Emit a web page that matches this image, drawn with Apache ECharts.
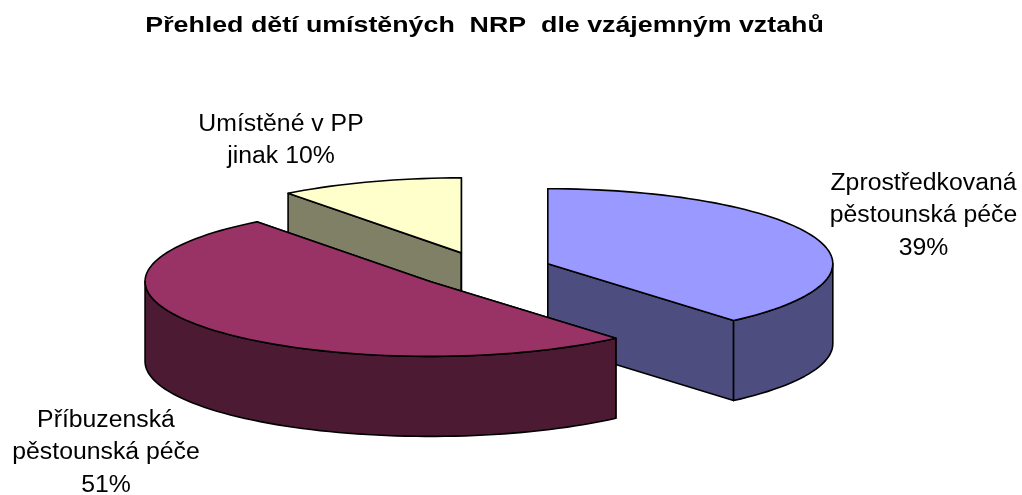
<!DOCTYPE html>
<html>
<head>
<meta charset="utf-8">
<style>
  html, body { margin: 0; padding: 0; background: #fff; }
  #chart { width: 1022px; height: 495px; }
</style>
<script src="https://cdn.jsdelivr.net/npm/echarts@6/dist/echarts.min.js"></script>
</head>
<body>
<div id="chart"></div>
<script>
// hodnoty (popisky jsou zaokrouhlené)
const categories = ['Zprostředkovaná\npěstounská péče', 'Příbuzenská\npěstounská péče', 'Umístěné v PP\njinak']
const values = [38.7, 50.9, 10.4]
const titleText = 'Přehled dětí umístěných  NRP  dle vzájemným vztahů'

const TOP_COLORS = ['#9999ff', '#993366', '#ffffcc']
const SIDE_COLORS = ['#4d4d80', '#4d1a33', '#808066']
const LABEL_POS = [[923.5, 167], [106, 404], [281, 108]]
const LABEL_BREAK = ['\n', '\n', ' ']
const FONT = '"Liberation Sans", Arial, sans-serif'

// projekce koláče: elipsa + výška + vysunutí výsečí
const CX = 483.4
const CY = 270
const RX = 285
const RY = 75
const DEPTH = 80
const EXPLODE = 68.7

const total = values.reduce((a, b) => a + b, 0)

function project(cx, cy, deg, dy = 0) {
  const a = (deg * Math.PI) / 180
  return [cx + RX * Math.sin(a), cy - RY * Math.cos(a) + dy]
}

function arcPoints(cx, cy, from, to, dy = 0) {
  const pts = []
  const steps = Math.max(2, Math.ceil(Math.abs(to - from) / 2))
  for (let i = 0; i <= steps; i++) {
    pts.push(project(cx, cy, from + ((to - from) * i) / steps, dy))
  }
  return pts
}

function renderSlice(params, api) {
  const i = api.value(0)
  let start = 0
  for (let k = 0; k < i; k++) start += (values[k] / total) * 360
  const end = start + (values[i] / total) * 360
  const mid = ((start + end) / 2) * Math.PI / 180
  const cx = CX + EXPLODE * Math.sin(mid)
  const cy = CY - EXPLODE * (RY / RX) * Math.cos(mid)

  const lineStyle = { stroke: '#000', lineWidth: 1.6, lineJoin: 'round' }
  const side = { ...lineStyle, fill: SIDE_COLORS[i] }
  const children = []
  const face = (deg) => {
    const p = project(cx, cy, deg)
    children.push({
      type: 'polygon',
      shape: { points: [[cx, cy], p, [p[0], p[1] + DEPTH], [cx, cy + DEPTH]] },
      style: side,
    })
  }
  face(start)
  face(end)

  // jen přední část pláště (90°–270°) je vidět
  const rimFrom = Math.max(start, 90)
  const rimTo = Math.min(end, 270)
  if (rimTo > rimFrom) {
    children.push({
      type: 'polygon',
      shape: {
        points: arcPoints(cx, cy, rimFrom, rimTo).concat(arcPoints(cx, cy, rimTo, rimFrom, DEPTH)),
      },
      style: side,
    })
  }
  children.push({
    type: 'polygon',
    shape: { points: [[cx, cy]].concat(arcPoints(cx, cy, start, end)) },
    style: { ...lineStyle, fill: TOP_COLORS[i] },
  })

  const pct = Math.round((values[i] / total) * 100)
  children.push({
    type: 'text',
    silent: true,
    x: LABEL_POS[i][0],
    y: LABEL_POS[i][1],
    scaleX: 1.055, // text je v předloze mírně roztažený
    style: {
      text: `${categories[i]}${LABEL_BREAK[i]}${pct}%`,
      font: `23.5px ${FONT}`,
      lineHeight: 32.5,
      fill: '#000',
      align: 'center',
      verticalAlign: 'top',
    },
  })
  return { type: 'group', children }
}

const chart = echarts.init(document.getElementById('chart'))
chart.setOption({
  animation: false,
  graphic: [{
    type: 'text',
    x: 484.5,
    y: 15,
    scaleX: 1.217,
    style: {
      text: titleText,
      font: `bold 22px ${FONT}`,
      fill: '#000',
      align: 'center',
      verticalAlign: 'top',
    },
  }],
  series: [{
    type: 'custom',
    coordinateSystem: 'none',
    renderItem: renderSlice,
    // pořadí kreslení: červená výseč překrývá ostatní
    data: [[2, values[2]], [0, values[0]], [1, values[1]]],
  }],
})
</script>
</body>
</html>
